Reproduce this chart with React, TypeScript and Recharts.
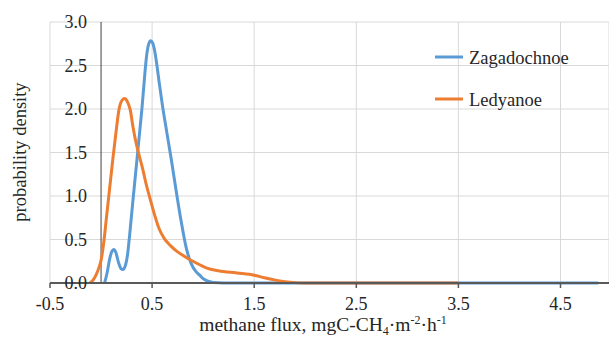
import React from "react";
import { LineChart, Line, XAxis, YAxis, CartesianGrid, ReferenceLine } from "recharts";

const xTicks = [-0.5, 0.5, 1.5, 2.5, 3.5, 4.5];
const yTicks = [0, 0.5, 1.0, 1.5, 2.0, 2.5, 3.0];

const seriesNames = ["Zagadochnoe", "Ledyanoe"];
const seriesColors = ["#5B9BD5", "#ED7D31"];

const zagadochnoeX = [0.035, 0.06, 0.085, 0.105, 0.125, 0.145, 0.17, 0.195, 0.214, 0.235, 0.26, 0.28, 0.31, 0.34, 0.37, 0.4, 0.425, 0.445, 0.465, 0.486, 0.505, 0.525, 0.545, 0.57, 0.6, 0.64, 0.688, 0.737, 0.786, 0.835, 0.884, 0.93, 0.966, 1.0, 1.05, 1.1, 1.2, 2.0, 3.0, 4.0, 4.87];
const zagadochnoeY = [0, 0.12, 0.28, 0.36, 0.385, 0.35, 0.24, 0.165, 0.155, 0.19, 0.33, 0.55, 0.92, 1.28, 1.64, 2.0, 2.35, 2.6, 2.74, 2.785, 2.76, 2.67, 2.52, 2.3, 2.05, 1.76, 1.42, 1.05, 0.7, 0.4, 0.22, 0.13, 0.09, 0.05, 0.02, 0.005, 0, 0, 0, 0, 0];

const ledyanoeX = [-0.11, -0.08, -0.05, -0.02, 0, 0.03, 0.05, 0.09, 0.116, 0.149, 0.175, 0.2, 0.23, 0.26, 0.286, 0.312, 0.345, 0.377, 0.41, 0.443, 0.48, 0.525, 0.57, 0.62, 0.68, 0.737, 0.8, 0.868, 0.966, 1.03, 1.15, 1.33, 1.5, 1.6, 1.72, 1.85, 2.0, 2.5, 3.0, 3.5];
const ledyanoeY = [0, 0.03, 0.09, 0.18, 0.26, 0.5, 0.72, 1.15, 1.43, 1.757, 1.99, 2.09, 2.12, 2.08, 1.99, 1.8, 1.6, 1.45, 1.3, 1.13, 0.97, 0.78, 0.62, 0.51, 0.43, 0.37, 0.32, 0.27, 0.21, 0.175, 0.14, 0.115, 0.09, 0.06, 0.03, 0.01, 0, 0, 0, 0];

const zagData = zagadochnoeX.map((x, i) => ({ x, y: zagadochnoeY[i] }));
const ledData = ledyanoeX.map((x, i) => ({ x, y: ledyanoeY[i] }));

const FONT = "'Liberation Serif', 'Times New Roman', serif";

const renderYTick = (props: any) => {
  const { y, payload } = props;
  return (
    <text key={`y-${payload.value}`} x={87} y={y} dy="0.36em" textAnchor="end" fontFamily={FONT} fontSize={18} fill="#262626">
      {Number(payload.value).toFixed(1)}
    </text>
  );
};

const renderXTick = (props: any) => {
  const { x, y, payload } = props;
  return (
    <text key={`x-${payload.value}`} x={x} y={y} dy="1.1em" textAnchor="middle" fontFamily={FONT} fontSize={18} fill="#262626">
      {Number(payload.value).toFixed(1)}
    </text>
  );
};

export default function App() {
  return (
    <div style={{ position: "absolute", left: 0, top: 0, width: 609, height: 338, background: "#fff" }}>
      <LineChart width={609} height={338} margin={{ top: 22, right: 0, bottom: 0, left: 49 }}>
        <CartesianGrid stroke="#d9d9d9" strokeWidth={1} />
        <XAxis
          type="number"
          dataKey="x"
          domain={[-0.5, 4.975]}
          ticks={xTicks}
          allowDataOverflow
          height={55}
          axisLine={{ stroke: "#595959", strokeWidth: 2 }}
          tickLine={{ stroke: "#595959", strokeWidth: 1.5 }}
          tickSize={5}
          tick={renderXTick}
        />
        <YAxis
          type="number"
          domain={[0, 3]}
          ticks={yTicks}
          width={1}
          interval={0}
          axisLine={false}
          tickLine={false}
          tick={renderYTick}
        />
        <ReferenceLine x={0} stroke="#404040" strokeWidth={1} />
        <Line data={zagData} dataKey="y" type="monotone" stroke={seriesColors[0]} strokeWidth={3} dot={false} isAnimationActive={false} name={seriesNames[0]} />
        <Line data={ledData} dataKey="y" type="monotone" stroke={seriesColors[1]} strokeWidth={3} dot={false} isAnimationActive={false} name={seriesNames[1]} />
      </LineChart>
      <svg width={609} height={338} style={{ position: "absolute", left: 0, top: 0, pointerEvents: "none" }}>
        <text transform="translate(26,152) rotate(-90)" textAnchor="middle" fontFamily={FONT} fontSize={18.5} fill="#262626">
          probability density
        </text>
        <text x={323} y={331} textAnchor="middle" fontFamily={FONT} fontSize={19.5} fill="#262626">
          methane flux, mgC-CH<tspan fontSize={12} dy={4}>4</tspan>
          <tspan dy={-4}>·m</tspan>
          <tspan fontSize={12} dy={-7}>-2</tspan>
          <tspan dy={7}>·h</tspan>
          <tspan fontSize={12} dy={-7}>-1</tspan>
        </text>
        {seriesNames.map((n, i) => (
          <g key={n}>
            <line x1={435} x2={463} y1={57 + i * 42} y2={57 + i * 42} stroke={seriesColors[i]} strokeWidth={3} />
            <text x={469} y={57 + i * 42} dy="0.36em" fontFamily={FONT} fontSize={18.5} fill="#262626">
              {n}
            </text>
          </g>
        ))}
      </svg>
    </div>
  );
}
